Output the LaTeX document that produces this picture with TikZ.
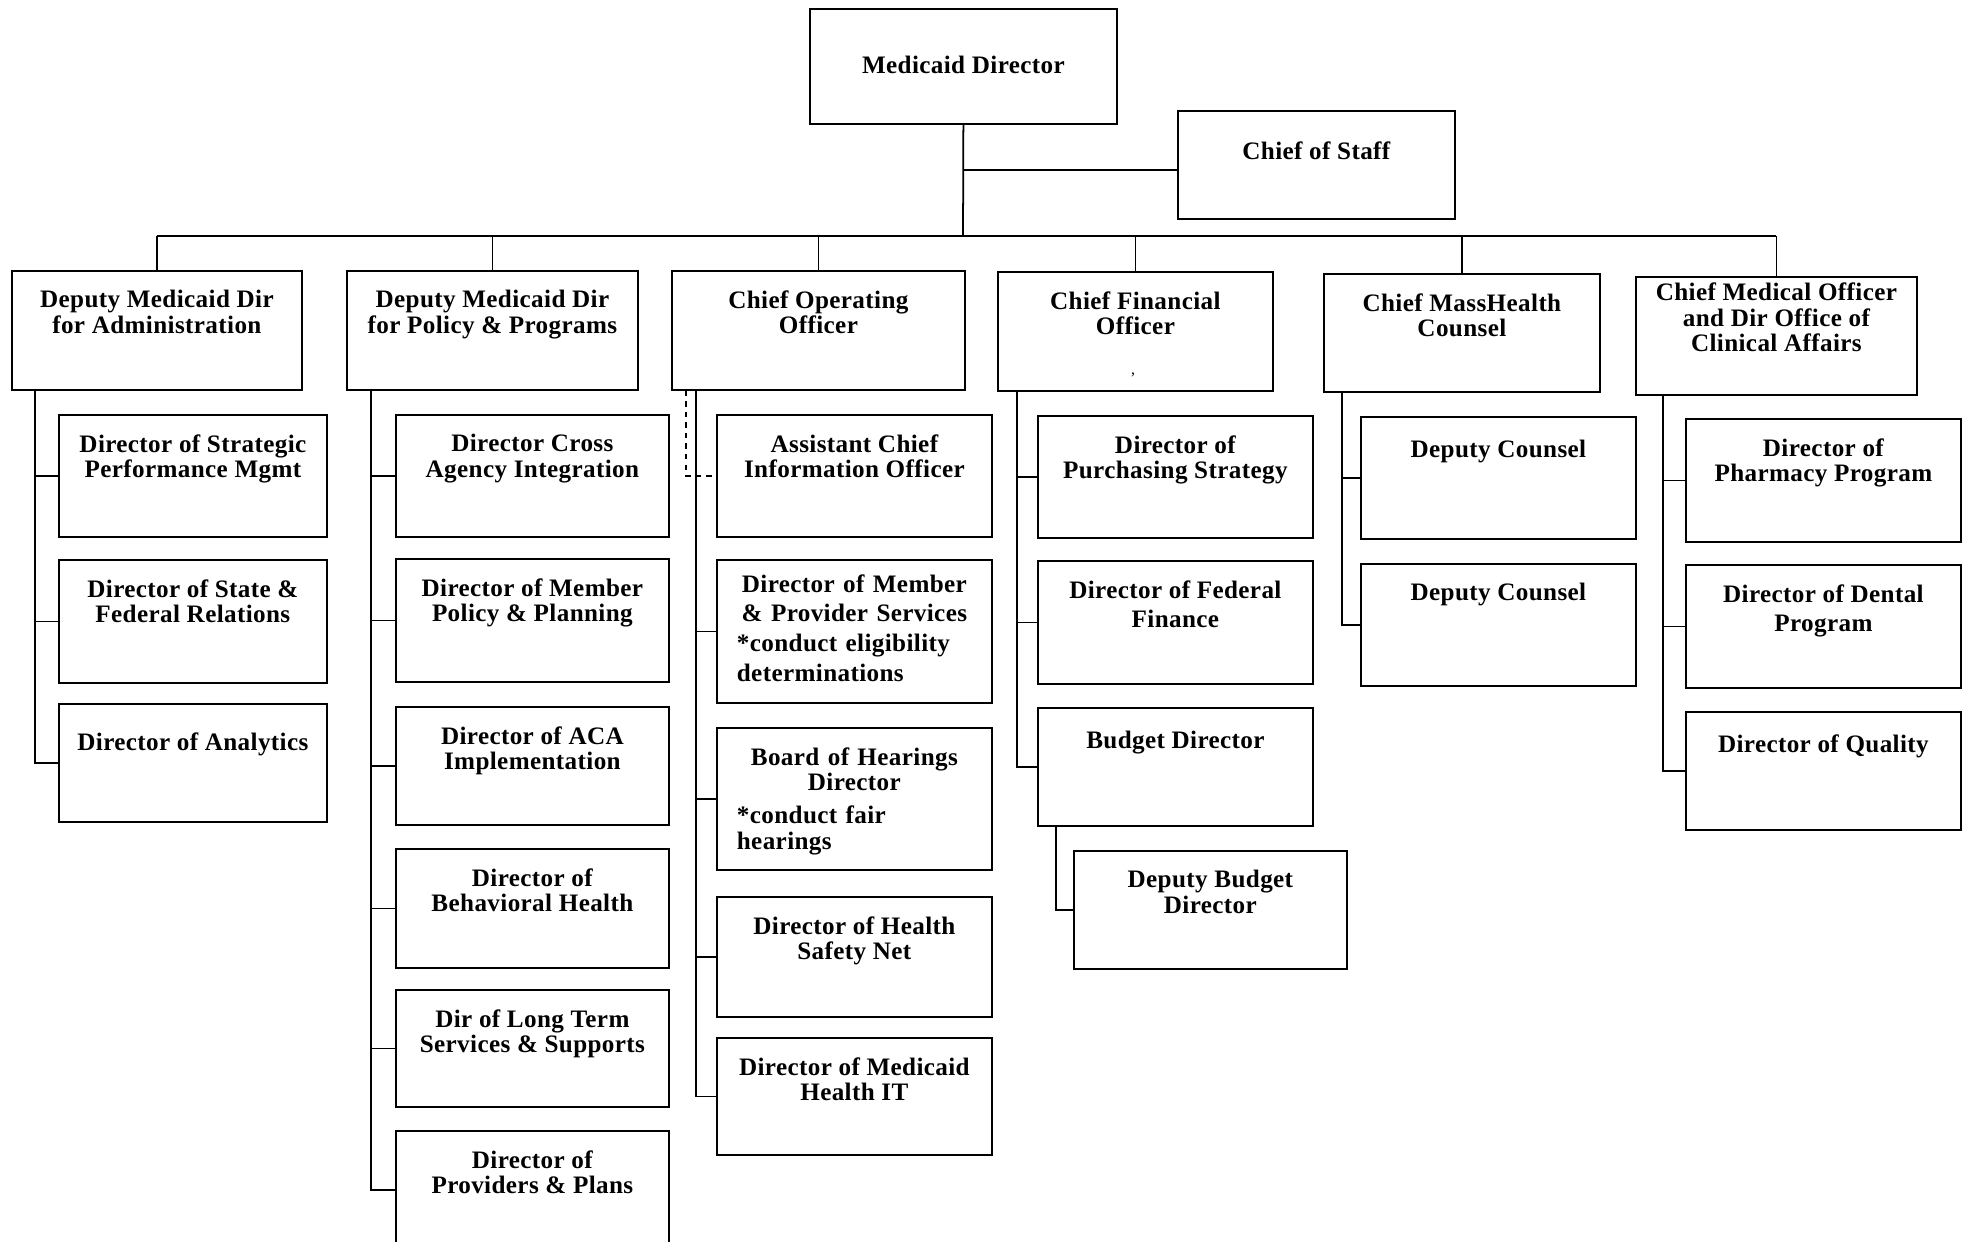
\documentclass[tikz,border=0pt]{standalone}
\usepackage{fontspec}
\setmainfont{Liberation Serif}
\newfontfamily\orgserif{Liberation Serif}[LetterSpace=1.5]
\newcommand{\orgfont}{\orgserif\bfseries\fontsize{14.3}{14.6}\selectfont}

\begin{document}
\begin{tikzpicture}[x=0.2mm, y=-0.2mm,
    box/.style={draw, line width=1pt, anchor=north west, inner sep=0pt,
      minimum width=55mm, minimum height=24.4mm},
    txt/.style={align=center, anchor=north, inner sep=0pt, font=\orgfont},
    note/.style={txt, text width=47mm, align=left},
    link/.style={line width=1pt}]
  \path[fill=white] (0,0) rectangle (1966,1242);
  \useasboundingbox (0,0) rectangle (1966,1242);

  % Director and chief of staff
  \node[box, minimum width=61.4mm, minimum height=23mm] (md) at (809,8) {};
  \node[txt] (md-t) at ([yshift=-9.5mm]md.north) {Medicaid Director};
  \node[box, minimum width=55.4mm, minimum height=21.6mm] (cos) at (1177,110) {};
  \node[txt] (cos-t) at ([yshift=-6.3mm]cos.north) {Chief of Staff};

  % Deputies and chiefs
  \node[box, minimum width=58mm, minimum height=23.8mm] (adm) at (11,270) {};
  \node[txt] (adm-t) at ([yshift=-4mm]adm.north) {Deputy Medicaid Dir\\for Administration};
  \node[box, minimum width=58.2mm, minimum height=23.8mm] (pol) at (346,270) {};
  \node[txt] (pol-t) at ([yshift=-4mm]pol.north) {Deputy Medicaid Dir\\for Policy \& Programs};
  \node[box, minimum width=58.6mm, minimum height=23.8mm] (coo) at (671,270) {};
  \node[txt] (coo-t) at ([yshift=-4mm]coo.north) {Chief Operating\\Officer};
  \node[box, minimum height=23.8mm] (cfo) at (997,271) {};
  \node[txt] (cfo-t) at ([yshift=-4mm]cfo.north) {Chief Financial\\Officer};
  \node[font=\small] (cfo-mark) at (1133,375) {,};
  \node[box, minimum width=55.2mm, minimum height=23.6mm] (mhc) at (1323,273) {};
  \node[txt] (mhc-t) at ([yshift=-4mm]mhc.north) {Chief MassHealth\\Counsel};
  \node[box, minimum width=56.2mm, minimum height=23.6mm] (cmo) at (1635,276) {};
  \node[txt] (cmo-t) at ([yshift=-1.3mm]cmo.north) {Chief Medical Officer\\and Dir Office of\\Clinical Affairs};

  % Administration
  \node[box, minimum width=53.6mm] (strat) at (58,414) {};
  \node[txt] (strat-t) at ([yshift=-4mm]strat.north) {Director of Strategic\\Performance Mgmt};
  \node[box, minimum width=53.6mm, minimum height=24.6mm] (state) at (58,559) {};
  \node[txt] (state-t) at ([yshift=-4mm]state.north) {Director of State \&\\Federal Relations};
  \node[box, minimum width=53.6mm, minimum height=23.6mm] (anl) at (58,703) {};
  \node[txt] (anl-t) at ([yshift=-5.8mm]anl.north) {Director of Analytics};

  % Policy and programs
  \node[box, minimum width=54.6mm] (cross) at (395,414) {};
  \node[txt] (cross-t) at ([yshift=-4mm]cross.north) {Director Cross\\Agency Integration};
  \node[box, minimum width=54.6mm, minimum height=24.6mm] (mpp) at (395,558) {};
  \node[txt] (mpp-t) at ([yshift=-4mm]mpp.north) {Director of Member\\Policy \& Planning};
  \node[box, minimum width=54.6mm, minimum height=23.6mm] (aca) at (395,706) {};
  \node[txt] (aca-t) at ([yshift=-4mm]aca.north) {Director of ACA\\Implementation};
  \node[box, minimum width=54.6mm, minimum height=23.8mm] (bh) at (395,848) {};
  \node[txt] (bh-t) at ([yshift=-4mm]bh.north) {Director of\\Behavioral Health};
  \node[box, minimum width=54.6mm, minimum height=23.4mm] (lts) at (395,989) {};
  \node[txt] (lts-t) at ([yshift=-4mm]lts.north) {Dir of Long Term\\Services \& Supports};
  \node[box, minimum width=54.6mm, minimum height=23.6mm] (pp) at (395,1130) {};
  \node[txt] (pp-t) at ([yshift=-4mm]pp.north) {Director of\\Providers \& Plans};

  % Operations
  \node[box] (acio) at (716,414) {};
  \node[txt] (acio-t) at ([yshift=-4mm]acio.north) {Assistant Chief\\Information Officer};
  \node[box, minimum height=28.6mm] (mps) at (716,559) {};
  \node[note] (mps-t) at ([yshift=-3mm]mps.north)
    {\makebox[\linewidth]{Director of Member}\\[2.4pt]
     \makebox[\linewidth]{\& Provider Services}\\[2.4pt]
     *conduct eligibility\\[2.4pt]determinations};
  \node[box, minimum height=28.4mm] (boh) at (716,727) {};
  \node[note] (boh-t) at ([yshift=-4mm]boh.north)
    {\makebox[\linewidth]{Board of Hearings}\\
     \makebox[\linewidth]{Director}\\[4pt]
     *conduct fair\\hearings};
  \node[box, minimum height=24mm] (hsn) at (716,896) {};
  \node[txt] (hsn-t) at ([yshift=-4mm]hsn.north) {Director of Health\\Safety Net};
  \node[box, minimum height=23.4mm] (hit) at (716,1037) {};
  \node[txt] (hit-t) at ([yshift=-4mm]hit.north) {Director of Medicaid\\Health IT};

  % Finance
  \node[box] (purch) at (1037,415) {};
  \node[txt] (purch-t) at ([yshift=-4mm]purch.north) {Director of\\Purchasing Strategy};
  \node[box, minimum height=24.6mm] (fed) at (1037,560) {};
  \node[txt] (fed-t) at ([yshift=-4mm]fed.north) {Director of Federal\\[2.4pt]Finance};
  \node[box, minimum height=23.6mm] (bud) at (1037,707) {};
  \node[txt] (bud-t) at ([yshift=-4.75mm]bud.north) {Budget Director};
  \node[box, minimum width=54.6mm, minimum height=23.6mm] (dbud) at (1073,850) {};
  \node[txt] (dbud-t) at ([yshift=-4mm]dbud.north) {Deputy Budget\\Director};

  % Counsel
  \node[box] (dc1) at (1360,416) {};
  \node[txt] (dc1-t) at ([yshift=-4.75mm]dc1.north) {Deputy Counsel};
  \node[box] (dc2) at (1360,563) {};
  \node[txt] (dc2-t) at ([yshift=-4mm]dc2.north) {Deputy Counsel};

  % Clinical affairs
  \node[box, minimum height=24.6mm] (pharm) at (1685,418) {};
  \node[txt] (pharm-t) at ([yshift=-4mm]pharm.north) {Director of\\Pharmacy Program};
  \node[box, minimum height=24.6mm] (dental) at (1685,564) {};
  \node[txt] (dental-t) at ([yshift=-4mm]dental.north) {Director of Dental\\[2.4pt]Program};
  \node[box, minimum height=23.6mm] (qual) at (1685,711) {};
  \node[txt] (qual-t) at ([yshift=-4.75mm]qual.north) {Director of Quality};

  % Top connectors
  \coordinate (bus) at (963,236);
  \coordinate (staff) at ([yshift=-1mm]cos.west);
  \draw[link] (md.south) -- (bus);
  \draw[link] (md.south |- staff) -- (staff);
  \draw[link] (adm.north |- bus) -- (cmo.north |- bus);
  \foreach \n in {adm,pol,coo,cfo,mhc,cmo}
    \draw[link] (\n.north |- bus) -- (\n.north);

  % Column connectors
  \foreach \n in {strat,state,anl}
    \draw[link] ([xshift=4.8mm]adm.south west) |- (\n.west);
  \foreach \n in {cross,mpp,aca,bh,lts,pp}
    \draw[link] ([xshift=5mm]pol.south west) |- (\n.west);
  \draw[link, dashed] ([xshift=3mm]coo.south west) |- (acio.west);
  \foreach \n in {mps,boh,hsn,hit}
    \draw[link] ([xshift=5mm]coo.south west) |- (\n.west);
  \foreach \n in {purch,fed,bud}
    \draw[link] ([xshift=4mm]cfo.south west) |- (\n.west);
  \draw[link] ([xshift=3.8mm]bud.south west) |- (dbud.west);
  \foreach \n in {dc1,dc2}
    \draw[link] ([xshift=3.8mm]mhc.south west) |- (\n.west);
  \foreach \n in {pharm,dental,qual}
    \draw[link] ([xshift=5.6mm]cmo.south west) |- (\n.west);
\end{tikzpicture}
\end{document}
